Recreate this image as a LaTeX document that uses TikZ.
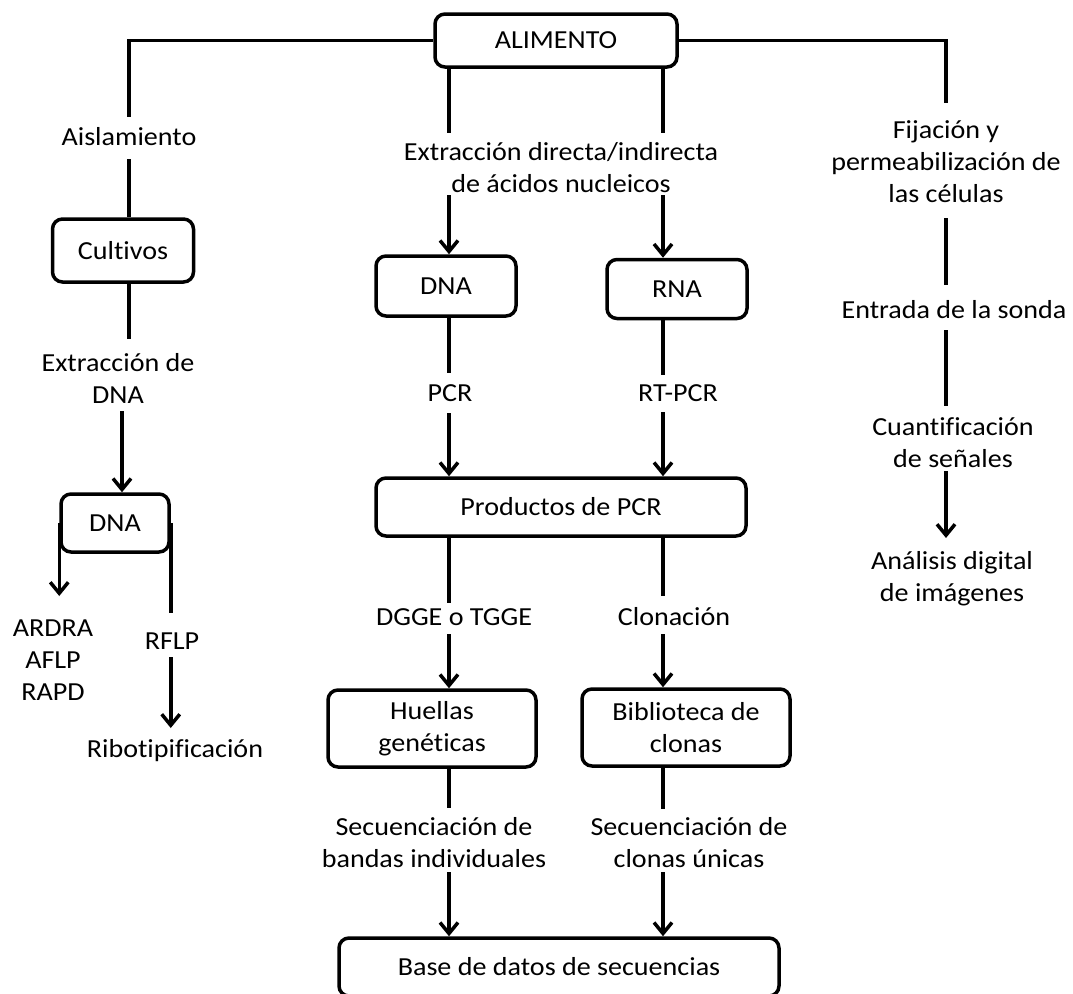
\documentclass[tikz,border=0pt]{standalone}
\usepackage{fontspec}
\setmainfont{Carlito}[FakeStretch=1.08,Ligatures={NoCommon,NoContextual}]
\usetikzlibrary{arrows.meta}
\begin{document}
\begin{tikzpicture}[x=1pt,y=-1pt,
  every node/.style={font=\fontsize{26}{32}\selectfont, inner sep=0pt, align=center},
  box/.style={draw, line width=3.5pt, rounded corners=10pt},
  ln/.style={line width=3.5pt},
  arr/.style={line width=3.5pt, -{Straight Barb[length=11pt,width=18pt]}}]
\useasboundingbox (0,0) rectangle (1073,993);
% columns
\coordinate (xA) at (122,0);
\coordinate (xM1) at (449,0);
\coordinate (xM2) at (663,0);
\coordinate (xR) at (946,0);
% nodes
\node[box, minimum width=242pt, minimum height=53pt] (alim) at (556,40.5) {ALIMENTO};
\node (aisl) at (129,137) {Aislamiento};
\node[box, minimum width=141pt, minimum height=63pt] (cult) at (123,250.5) {Cultivos};
\node (extL) at (118,378) {Extracción de\\DNA};
\node[box, minimum width=108pt, minimum height=58pt] (dnaL) at (115,523) {DNA};
\node (ardra) at (53,660.5) {ARDRA\\AFLP\\RAPD};
\node (rflp) at (172,641) {RFLP};
\node (ribo) at (175,751) {Ribotipificación};
\node (extM) at (561,167.5) {Extracción directa/indirecta\\de ácidos nucleicos};
\node[box, minimum width=140pt, minimum height=60pt] (dnaM) at (446,286) {DNA};
\node[box, minimum width=140pt, minimum height=59pt] (rnaM) at (677,289) {RNA};
\node (pcr) at (450,393) {PCR};
\node (rtpcr) at (678,393) {RT-PCR};
\node[box, minimum width=370pt, minimum height=58pt] (prod) at (561,507) {Productos de PCR};
\node (dgge) at (454,617) {DGGE o TGGE};
\node (clon) at (674,617) {Clonación};
\node[box, minimum width=208pt, minimum height=77pt] (huel) at (432,728.5) {Huellas\\genéticas};
\node[box, minimum width=208pt, minimum height=77pt] (bibl) at (686,727.5) {Biblioteca de\\clonas};
\node (secL) at (434,842.5) {Secuenciación de\\bandas individuales};
\node (secR) at (689,842.5) {Secuenciación de\\clonas únicas};
\node[box, minimum width=440pt, minimum height=58pt] (base) at (559,967) {Base de datos de secuencias};
\node (fij) at (946,161.5) {Fijación y\\permeabilización de\\las células};
\node (entr) at (954,310) {Entrada de la sonda};
\node (cuan) at (953,442.5) {Cuantificación\\de señales};
\node (anal) at (952,579) {Análisis digital\\de imágenes};
% left branch
\draw[ln] (alim.west) -| ([yshift=20pt]aisl.center);
\draw[ln] ([yshift=-22pt]aisl.center) -- (cult.north -| aisl);
\draw[ln] (cult.south -| aisl) -- ([yshift=39pt]extL.center -| aisl);
\draw[arr] ([yshift=-33pt]extL.center -| xA) -- (dnaL.north -| xA);
\draw[arr] (dnaL.west) -- ([yshift=64.5pt]ardra.center -| dnaL.west);
\draw[ln] (dnaL.east) -- ([yshift=28pt]rflp.center -| dnaL.east);
\draw[arr] ([yshift=-16pt]rflp.center -| dnaL.east) -- ([yshift=23pt]ribo.center -| dnaL.east);
% middle branches
\draw[ln] (alim.south -| xM1) -- ([yshift=34.5pt]extM.center -| xM1);
\draw[arr] ([yshift=-27.5pt]extM.center -| xM1) -- (dnaM.north -| xM1);
\draw[ln] (alim.south -| xM2) -- ([yshift=34.5pt]extM.center -| xM2);
\draw[arr] ([yshift=-27.5pt]extM.center -| xM2) -- (rnaM.north -| xM2);
\draw[ln] (dnaM.south -| xM1) -- ([yshift=20pt]pcr.center -| xM1);
\draw[arr] ([yshift=-20pt]pcr.center -| xM1) -- (prod.north -| xM1);
\draw[ln] (rnaM.south -| xM2) -- ([yshift=18pt]rtpcr.center -| xM2);
\draw[arr] ([yshift=-19pt]rtpcr.center -| xM2) -- (prod.north -| xM2);
\draw[ln] (prod.south -| xM1) -- ([yshift=14pt]dgge.center -| xM1);
\draw[arr] ([yshift=-17pt]dgge.center -| xM1) -- (huel.north -| xM1);
\draw[ln] (prod.south -| xM2) -- ([yshift=21pt]clon.center -| xM2);
\draw[arr] ([yshift=-17pt]clon.center -| xM2) -- (bibl.north -| xM2);
\draw[ln] (huel.south -| xM1) -- ([yshift=34.5pt]secL.center -| xM1);
\draw[arr] ([yshift=-29.5pt]secL.center -| xM1) -- (base.north -| xM1);
\draw[ln] (bibl.south -| xM2) -- ([yshift=33.5pt]secR.center -| xM2);
\draw[arr] ([yshift=-29.5pt]secR.center -| xM2) -- (base.north -| xM2);
% right branch
\draw[ln] (alim.east) -| ([yshift=58.5pt]fij.center -| xR);
\draw[ln] ([yshift=-56.5pt]fij.center -| xR) -- ([yshift=25pt]entr.center -| xR);
\draw[ln] ([yshift=-20pt]entr.center -| xR) -- ([yshift=36.5pt]cuan.center -| xR);
\draw[arr] ([yshift=-28.5pt]cuan.center -| xR) -- ([yshift=41pt]anal.center -| xR);
\end{tikzpicture}
\end{document}
